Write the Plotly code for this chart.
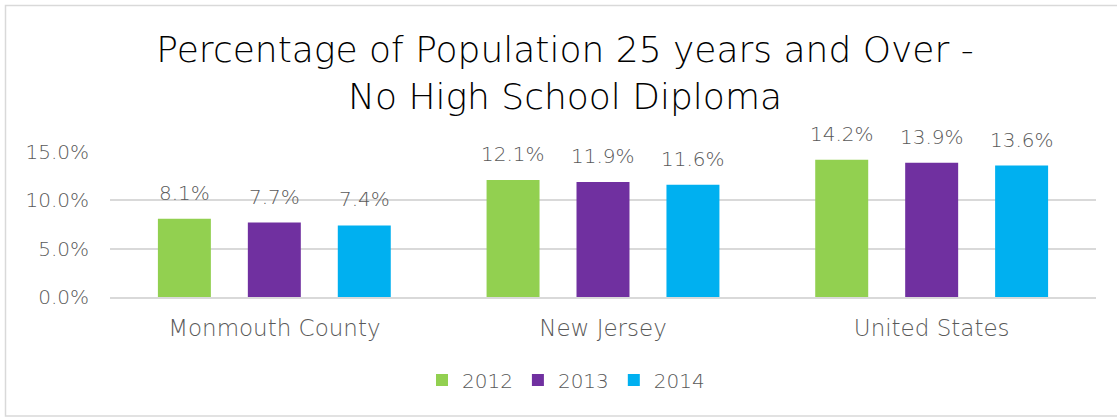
import plotly.graph_objects as go

categories = ["Monmouth County", "New Jersey", "United States"]
years = ["2012", "2013", "2014"]
values_2012 = [8.1, 12.1, 14.2]
values_2013 = [7.7, 11.9, 13.9]
values_2014 = [7.4, 11.6, 13.6]
tick_vals = [0, 5, 10, 15]
tick_text = ["0.0%", "5.0%", "10.0%", "15.0%"]

series = [values_2012, values_2013, values_2014]
colors = ["#92D050", "#7030A0", "#00B0F0"]

FONT = "DejaVu Sans"
GREY = "#595959"

W, H = 1117, 417
L, R, T, B = 110, 21, 152, 120
plot_w = W - L - R
plot_h = H - T - B

fig = go.Figure()
for name, vals, col in zip(years, series, colors):
    fig.add_trace(go.Bar(x=categories, y=vals, name=name, marker=dict(color=col, line=dict(width=0)),
                         cliponaxis=False))

annotations = []
for i, vals in enumerate(series):
    for c, v in zip(categories, vals):
        annotations.append(dict(x=c, y=v, xref="x", yref="y", text=f"{v:.1f}%", showarrow=False,
                                xshift=(i - 1) * 90, yanchor="bottom", yshift=12,
                                font=dict(family=FONT, size=20, color=GREY, weight=200)))

fig.update_layout(
    width=W, height=H,
    margin=dict(l=L, r=R, t=T, b=B, pad=0),
    paper_bgcolor="white", plot_bgcolor="white",
    barmode="group", bargap=0.179, bargroupgap=0.411,
    title=dict(text="Percentage of Population 25 years and Over -<br>No High School Diploma",
               x=565 / W, xref="container", xanchor="center",
               y=1 - 62 / H, yref="container", yanchor="top",
               font=dict(family=FONT, size=36, color="#000000", weight=200)),
    yaxis=dict(range=[0, 15], tickvals=tick_vals, ticktext=tick_text, showgrid=True,
               gridcolor="#D9D9D9", gridwidth=1.5, zeroline=False, showline=False,
               ticks="", ticklabelstandoff=20,
               tickfont=dict(family=FONT, size=20, color=GREY, weight=200)),
    xaxis=dict(showgrid=False, showline=True, linecolor="#D9D9D9", linewidth=1.5, ticks="",
               ticklabelstandoff=10,
               tickfont=dict(family=FONT, size=23, color=GREY, weight=200)),
    legend=dict(orientation="h", x=(566 - L) / plot_w, xanchor="center",
                y=(297 - 380) / plot_h, yanchor="middle",
                font=dict(family=FONT, size=20, color=GREY, weight=200),
                itemwidth=30, traceorder="normal"),
    annotations=annotations,
    shapes=[dict(type="rect", xref="paper", yref="paper",
                 x0=(5.5 - L) / plot_w, x1=(W + 2 - L) / plot_w,
                 y0=(297 - 416) / plot_h, y1=(297 - 5.5) / plot_h,
                 line=dict(color="#D9D9D9", width=1.5), fillcolor="rgba(0,0,0,0)", layer="below")],
)

fig.write_html("out.html", post_script="document.body.style.margin='0';",
               config={"displayModeBar": False})
